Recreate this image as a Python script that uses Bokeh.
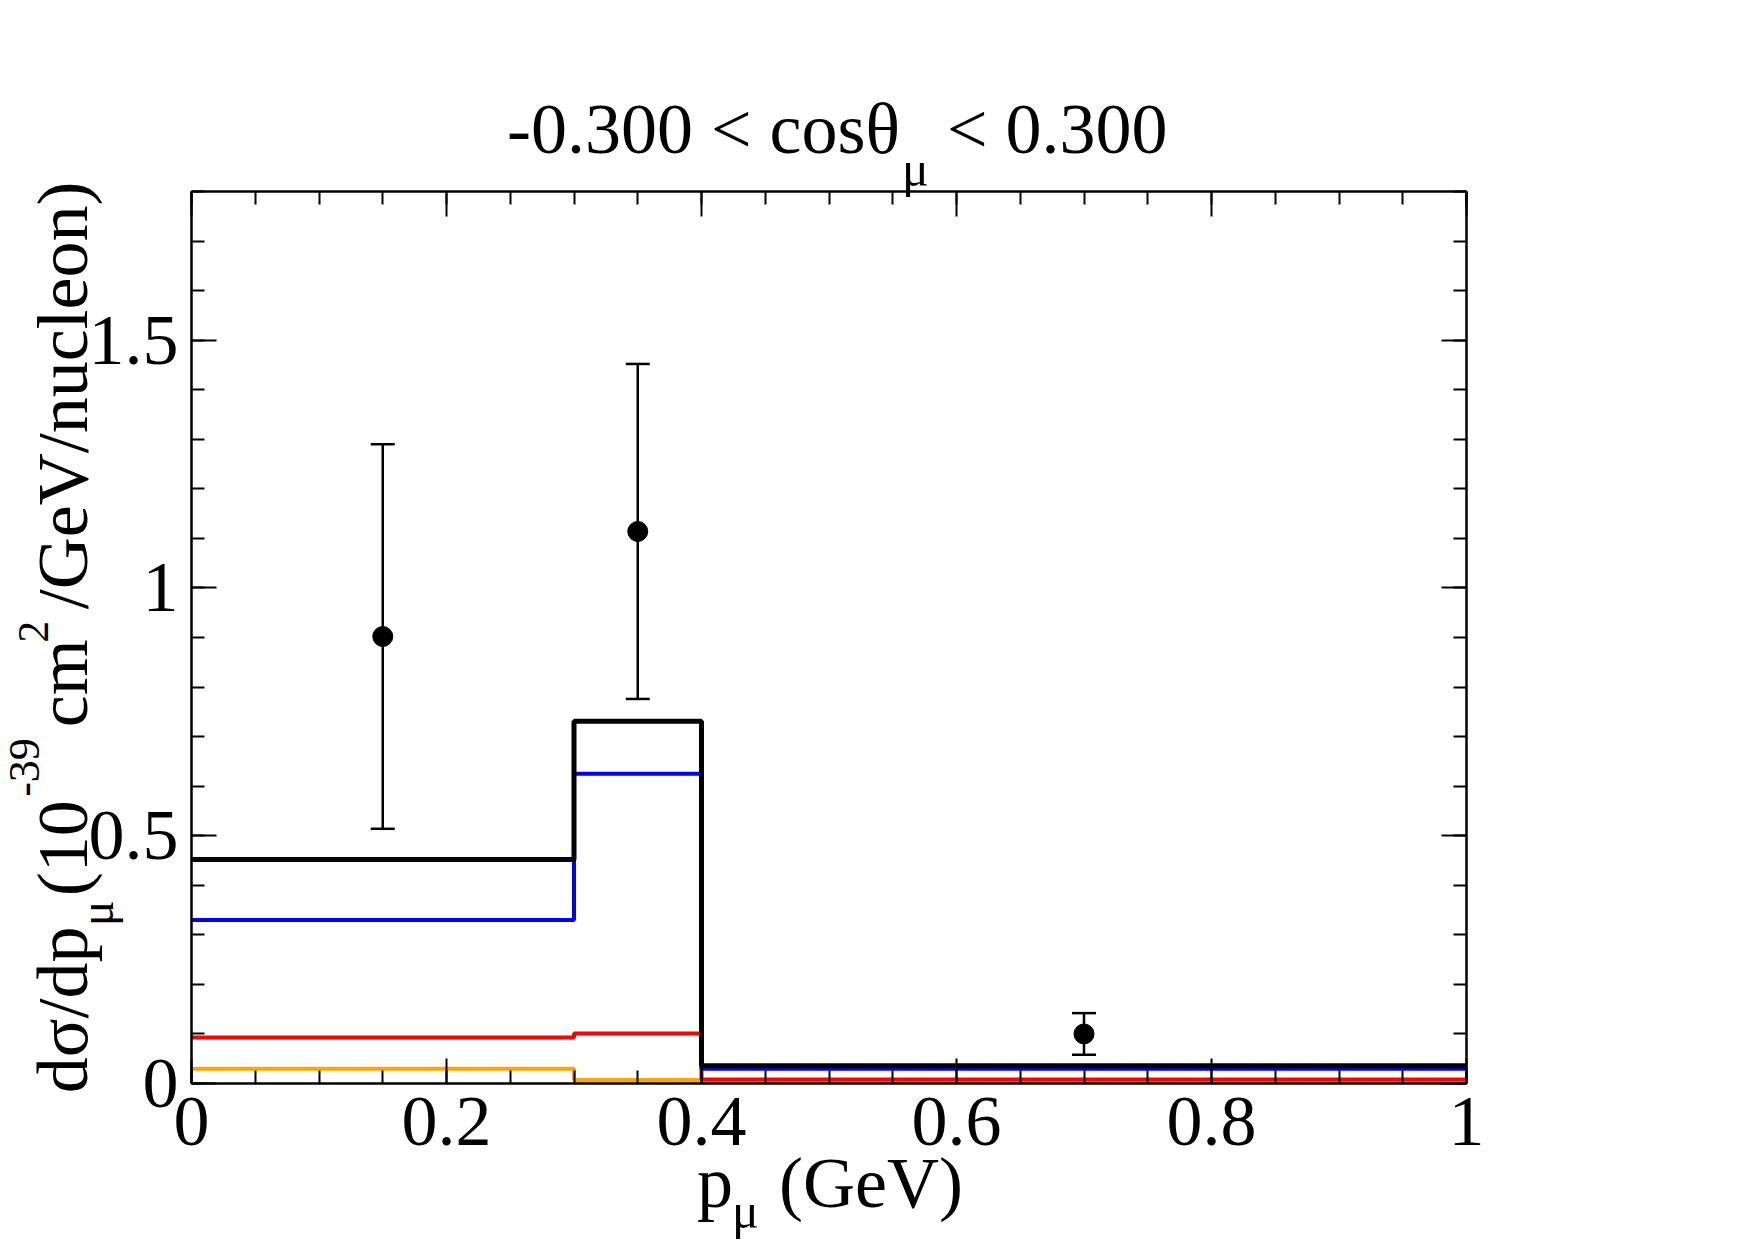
from bokeh.plotting import figure
from bokeh.models import (Range1d, LinearAxis, FixedTicker, Whisker, TeeHead,
                          ColumnDataSource, CustomJSTickFormatter, GridBox, Div)
from bokeh.embed import file_html
from bokeh.resources import INLINE

# ---------------- data ----------------
bin_edges = [0.0, 0.3, 0.4, 1.0]
total_xsec = [0.452, 0.731, 0.036]      # black
blue_xsec = [0.330, 0.625, 0.030]       # blue
red_xsec = [0.093, 0.101, 0.008]        # red
orange_xsec = [0.030, 0.007, 0.002]     # orange

data_p = [0.15, 0.35, 0.70]
data_xsec = [0.902, 1.114, 0.100]
data_err = [0.388, 0.338, 0.042]

x_major = [0, 0.2, 0.4, 0.6, 0.8, 1]
x_labels = ["0", "0.2", "0.4", "0.6", "0.8", "1"]
y_major = [0, 0.5, 1, 1.5]
y_labels = ["0", "0.5", "1", "1.5"]

# ---------------- layout ----------------
W, H = 1755, 1240
FX0, FX1, FY0, FY1 = 191, 1466, 191, 1083   # frame in canvas px
X0, X1, Y0, Y1 = 0.0, 1.0, 0.0, 1.8
FONT = "Liberation Serif"

p = figure(width=W, height=H, output_backend="svg", toolbar_location=None,
           x_range=Range1d(X0, X1), y_range=Range1d(Y0, Y1),
           x_axis_location=None, y_axis_location=None,
           min_border_left=FX0, min_border_right=W - FX1,
           min_border_top=FY0, min_border_bottom=H - FY1)
p.outline_line_color = None
p.xgrid.visible = False
p.ygrid.visible = False
p.background_fill_color = "white"
p.border_fill_color = "white"

x_minor = [round(i * 0.05, 2) for i in range(0, 21)]
y_minor = [round(i * 0.1, 1) for i in range(0, 19)]


def style_axis(ax, labels_on):
    ax.axis_line_width = 2.5
    ax.axis_line_color = "black"
    ax.major_tick_in = 25
    ax.major_tick_out = 0
    ax.minor_tick_in = 13
    ax.minor_tick_out = 0
    ax.major_tick_line_width = 2
    ax.minor_tick_line_width = 2
    ax.major_tick_line_color = "black"
    ax.minor_tick_line_color = "black"
    if labels_on:
        ax.major_label_text_font = FONT
        ax.major_label_text_font_size = "72px"
        ax.major_label_text_color = "black"
    else:
        ax.formatter = CustomJSTickFormatter(code="return ''")
        ax.major_label_text_font_size = "0px"


xb = LinearAxis(ticker=FixedTicker(ticks=x_major, minor_ticks=x_minor))
xb.major_label_overrides = dict(zip(x_major, x_labels))
style_axis(xb, True)
xb.major_label_standoff = 14
p.add_layout(xb, "below")

xt = LinearAxis(ticker=FixedTicker(ticks=x_major, minor_ticks=x_minor))
style_axis(xt, False)
p.add_layout(xt, "above")

yl = LinearAxis(ticker=FixedTicker(ticks=y_major, minor_ticks=y_minor))
yl.major_label_overrides = dict(zip(y_major, y_labels))
style_axis(yl, True)
yl.major_label_standoff = 13
p.add_layout(yl, "left")

yr = LinearAxis(ticker=FixedTicker(ticks=y_major, minor_ticks=y_minor))
style_axis(yr, False)
p.add_layout(yr, "right")

# ---------------- histograms ----------------
for vals, col, lw in [(orange_xsec, "#ffa500", 4.0), (red_xsec, "#ff0000", 4.0),
                      (blue_xsec, "#0000ff", 4.0), (total_xsec, "#000000", 5.0)]:
    ys = list(vals) + [vals[-1]]
    p.step(x=bin_edges, y=ys, mode="after", line_color=col, line_width=lw)

# ---------------- data points ----------------
src = ColumnDataSource(dict(
    x=data_p, y=data_xsec,
    upper=[v + e for v, e in zip(data_xsec, data_err)],
    lower=[v - e for v, e in zip(data_xsec, data_err)],
))
wh = Whisker(source=src, base="x", upper="upper", lower="lower", dimension="height",
             line_color="black", line_width=2.5,
             upper_head=TeeHead(size=24, line_width=2.5, line_color="black"),
             lower_head=TeeHead(size=24, line_width=2.5, line_color="black"))
p.add_layout(wh)
p.scatter(x="x", y="y", source=src, size=20, marker="circle",
          fill_color="black", line_color="black")

# ---------------- text layer (HTML over the canvas) ----------------
ASC = 0.3374  # (ascent - descent)/2 of Liberation Serif, in em


def span(text, px, py, size, rotate=False):
    sh = ASC * size
    style = (f"position:absolute;left:{px}px;top:{py - sh:.1f}px;"
             f"font-family:'Liberation Serif';font-size:{size}px;line-height:0;"
             "white-space:nowrap;color:#000;margin:0;padding:0;")
    if rotate:
        style += f"transform:rotate(-90deg);transform-origin:0px {sh:.1f}px;"
    return f'<span style="{style}">{text}</span>'


pieces = [
    # title
    span("-0.300 &lt; cosθ", 507, 153, 72),
    span("μ", 902, 186, 50),
    span("&lt; 0.300", 947, 153, 72),
    # x label
    span("p", 697, 1207, 72),
    span("μ", 732, 1228, 50),
    span("(GeV)", 779, 1207, 72),
    # y label (rotated: px = baseline position, py = start position)
    span("dσ/dp", 87, 1093, 72, True),
    span("μ", 113, 926, 48, True),
    span("(10", 87, 896, 72, True),
    span("-39", 40, 797, 44, True),
    span("cm", 87, 727, 72, True),
    span("2", 49, 643, 44, True),
    span("/GeV/nucleon)", 87, 609, 72, True),
]
html = (f'<div style="position:relative;width:{W}px;height:{H}px;margin:0;padding:0;'
        f'pointer-events:none;">' + "".join(pieces) + "</div>")
text_layer = Div(text=html, width=W, height=H, margin=0,
                 styles={"pointer-events": "none"})

layout = GridBox(children=[(p, 0, 0), (text_layer, 0, 0)])
with open("out.html", "w", encoding="utf-8") as f:
    f.write(file_html(layout, INLINE))
